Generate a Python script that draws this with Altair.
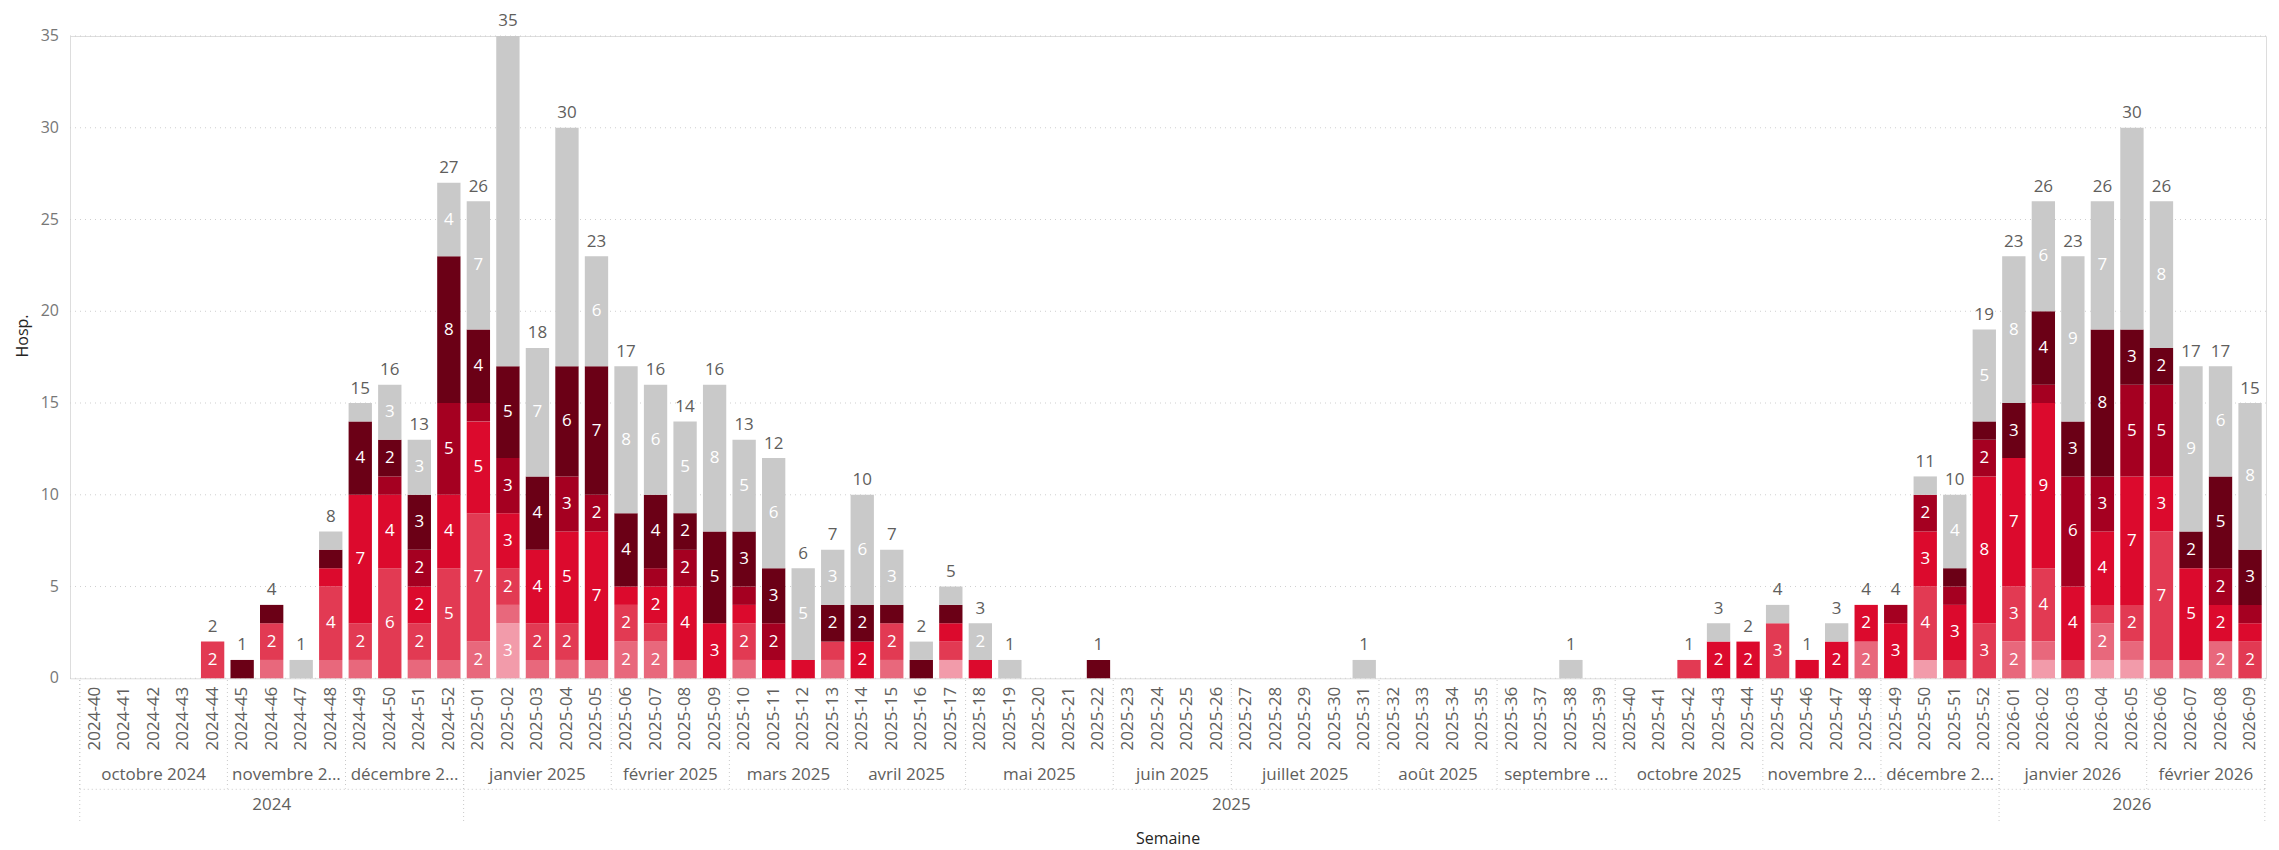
import altair as alt
import pandas as pd

# ---------------- data ----------------
weeks = (
    [f"2024-{w:02d}" for w in range(40, 53)]
    + [f"2025-{w:02d}" for w in range(1, 53)]
    + [f"2026-{w:02d}" for w in range(1, 10)]
)

series_names = ["Groupe 1", "Groupe 2", "Groupe 3", "Groupe 4", "Groupe 5", "Groupe 6", "Groupe 7"]
series_colors = ["#F29BAA", "#E8687C", "#E23A53", "#DC0A2D", "#A50021", "#6B0016", "#C9C9C9"]

# each list: 2024-40..52 (13) | 2025-01..52 (52, in rows of 13) | 2026-01..09 (9)
c1 = ([0, 0, 0, 0, 0, 0, 0, 0, 0, 0, 0, 0, 0]
      + [0, 3, 0, 0, 0, 0, 0, 0, 0, 0, 0, 0, 0,
         0, 0, 0, 1, 0, 0, 0, 0, 0, 0, 0, 0, 0,
         0, 0, 0, 0, 0, 0, 0, 0, 0, 0, 0, 0, 0,
         0, 0, 0, 0, 0, 0, 0, 0, 0, 0, 1, 0, 0]
      + [0, 1, 0, 1, 1, 0, 0, 0, 0])
c2 = ([0, 0, 0, 0, 0, 0, 1, 0, 1, 1, 0, 1, 1]
      + [2, 1, 1, 1, 1, 2, 2, 1, 0, 1, 0, 0, 1,
         0, 1, 0, 0, 0, 0, 0, 0, 0, 0, 0, 0, 0,
         0, 0, 0, 0, 0, 0, 0, 0, 0, 0, 0, 0, 0,
         0, 0, 0, 0, 0, 0, 0, 0, 2, 0, 0, 0, 0]
      + [2, 1, 0, 2, 1, 1, 1, 2, 0])
c3 = ([0, 0, 0, 0, 2, 0, 2, 0, 4, 2, 6, 2, 5]
      + [7, 2, 2, 2, 0, 2, 1, 0, 0, 2, 0, 0, 1,
         0, 2, 0, 1, 0, 0, 0, 0, 0, 0, 0, 0, 0,
         0, 0, 0, 0, 0, 0, 0, 0, 0, 0, 0, 0, 0,
         0, 0, 1, 0, 0, 3, 0, 0, 0, 0, 4, 1, 3]
      + [3, 4, 1, 1, 2, 7, 0, 0, 2])
c4 = ([0, 0, 0, 0, 0, 0, 0, 0, 1, 7, 4, 2, 4]
      + [5, 3, 4, 5, 7, 1, 2, 4, 3, 1, 1, 1, 0,
         2, 0, 0, 1, 1, 0, 0, 0, 0, 0, 0, 0, 0,
         0, 0, 0, 0, 0, 0, 0, 0, 0, 0, 0, 0, 0,
         0, 0, 0, 2, 2, 0, 1, 2, 2, 3, 3, 3, 8]
      + [7, 9, 4, 4, 7, 3, 5, 2, 1])
c5 = ([0, 0, 0, 0, 0, 0, 0, 0, 0, 0, 1, 2, 5]
      + [1, 3, 0, 3, 2, 0, 1, 2, 0, 1, 2, 0, 0,
         0, 0, 0, 0, 0, 0, 0, 0, 0, 0, 0, 0, 0,
         0, 0, 0, 0, 0, 0, 0, 0, 0, 0, 0, 0, 0,
         0, 0, 0, 0, 0, 0, 0, 0, 0, 1, 2, 1, 2]
      + [0, 1, 6, 3, 5, 5, 0, 2, 1])
c6 = ([0, 0, 0, 0, 0, 1, 1, 0, 1, 4, 2, 3, 8]
      + [4, 5, 4, 6, 7, 4, 4, 2, 5, 3, 3, 0, 2,
         2, 1, 1, 1, 0, 0, 0, 0, 1, 0, 0, 0, 0,
         0, 0, 0, 0, 0, 0, 0, 0, 0, 0, 0, 0, 0,
         0, 0, 0, 0, 0, 0, 0, 0, 0, 0, 0, 1, 1]
      + [3, 4, 3, 8, 3, 2, 2, 5, 3])
c7 = ([0, 0, 0, 0, 0, 0, 0, 1, 1, 1, 3, 3, 4]
      + [7, 18, 7, 13, 6, 8, 6, 5, 8, 5, 6, 5, 3,
         6, 3, 1, 1, 2, 1, 0, 0, 0, 0, 0, 0, 0,
         0, 0, 0, 0, 1, 0, 0, 0, 0, 0, 0, 1, 0,
         0, 0, 0, 1, 0, 1, 0, 1, 0, 0, 1, 4, 5]
      + [8, 6, 9, 7, 11, 8, 9, 6, 8])
series_values = [c1, c2, c3, c4, c5, c6, c7]

month_labels = ["octobre 2024", "novembre 2024", "décembre 2024",
                "janvier 2025", "février 2025", "mars 2025", "avril 2025", "mai 2025",
                "juin 2025", "juillet 2025", "août 2025", "septembre 2025", "octobre 2025",
                "novembre 2025", "décembre 2025", "janvier 2026", "février 2026"]
month_sizes = [5, 4, 4, 5, 4, 4, 4, 5, 4, 5, 4, 4, 5, 4, 4, 5, 4]
year_labels = ["2024", "2025", "2026"]
year_sizes = [13, 52, 9]
y_ticks = [0, 5, 10, 15, 20, 25, 30, 35]

# ---------------- tables ----------------
n = len(weeks)
rows = []
for i, wk in enumerate(weeks):
    for j, (name, vals) in enumerate(zip(series_names, series_values)):
        rows.append({"idx": i, "week": wk, "series": name, "order": j, "value": vals[i]})
long_df = pd.DataFrame(rows)
tot_df = pd.DataFrame({"idx": list(range(n)),
                       "total": [sum(s[i] for s in series_values) for i in range(n)]})
week_df = pd.DataFrame({"idx": list(range(n)), "week": weeks})
tick_df = pd.DataFrame({"v": y_ticks})


def groups(labels, sizes):
    out, start = [], 0
    for lab, k in zip(labels, sizes):
        out.append({"label": lab, "lo": start - 0.5, "hi": start + k - 0.5, "mid": start + (k - 1) / 2})
        start += k
    return pd.DataFrame(out)


month_df = groups(month_labels, month_sizes)
year_df = groups(year_labels, year_sizes)
month_b = pd.DataFrame({"b": list(month_df["lo"]) + [month_df["hi"].iloc[-1]]})
year_b = pd.DataFrame({"b": list(year_df["lo"]) + [year_df["hi"].iloc[-1]]})
hline_df = pd.DataFrame({"lo": [-0.5], "hi": [n - 0.5]})

# ---------------- styling ----------------
FONT = "Open Sans"
TXT = "#605E5C"
SEP = "#C8C8C8"
HALF = 0.395
W, H = 2196, 642.3

xs = alt.Scale(domain=[-0.83, 73.54], nice=False, zero=False)
ys = alt.Scale(domain=[0, 35], nice=False, zero=True)
stack_sort = [alt.SortField("order", order="ascending")]


def X(field):
    return alt.X(field, scale=xs, axis=None)


def Y(field):
    return alt.Y(field, scale=ys, axis=None)


grid = (
    alt.Chart(tick_df)
    .mark_rule(color="#CFCFCF", strokeDash=[1, 4], strokeWidth=1)
    .encode(y=Y("v:Q"), x=alt.value(0), x2=alt.value(W))
)
ylabels = (
    alt.Chart(tick_df)
    .mark_text(font=FONT, fontSize=16, color="#777777", align="right", baseline="middle")
    .encode(y=Y("v:Q"), x=alt.value(-11), text="v:Q")
)

bars = (
    alt.Chart(long_df)
    .transform_stack(stack="value", groupby=["idx"], as_=["y0", "y1"], sort=stack_sort)
    .transform_filter("datum.value > 0")
    .transform_calculate(xl=f"datum.idx - {HALF}", xr=f"datum.idx + {HALF}")
    .mark_bar()
    .encode(
        x=X("xl:Q"),
        x2="xr:Q",
        y=Y("y1:Q"),
        y2="y0:Q",
        color=alt.Color("series:N", scale=alt.Scale(domain=series_names, range=series_colors),
                        legend=None),
    )
)

seg_labels = (
    alt.Chart(long_df)
    .transform_stack(stack="value", groupby=["idx"], as_=["y0", "y1"], sort=stack_sort)
    .transform_filter("datum.value >= 2 && datum.value <= 9")
    .transform_calculate(mid="(datum.y0 + datum.y1) / 2")
    .mark_text(font=FONT, fontSize=17, color="white", align="center", baseline="middle")
    .encode(x=X("idx:Q"), y=Y("mid:Q"), text="value:Q")
)

totals = (
    alt.Chart(tot_df)
    .transform_filter("datum.total > 0")
    .mark_text(font=FONT, fontSize=17, color=TXT, align="center", baseline="alphabetic", dy=-9.5)
    .encode(x=X("idx:Q"), y=Y("total:Q"), text="total:Q")
)

week_text = (
    alt.Chart(week_df)
    .mark_text(font=FONT, fontSize=17, color=TXT, angle=270, align="right", baseline="middle")
    .encode(x=X("idx:Q"), y=alt.value(H + 8.4), text="week:N")
)

month_rules = (
    alt.Chart(month_b)
    .mark_rule(color=SEP, strokeDash=[1, 3], strokeWidth=1)
    .encode(x=X("b:Q"), y=alt.value(H + 1.7), y2=alt.value(H + 110.4))
)
year_rules = (
    alt.Chart(year_b)
    .mark_rule(color=SEP, strokeDash=[1, 3], strokeWidth=1)
    .encode(x=X("b:Q"), y=alt.value(H + 1.7), y2=alt.value(H + 143.4))
)
hline = (
    alt.Chart(hline_df)
    .mark_rule(color=SEP, strokeDash=[1, 3], strokeWidth=1)
    .encode(x=X("lo:Q"), x2="hi:Q", y=alt.value(H + 111))
)

month_text = (
    alt.Chart(month_df)
    .mark_text(font=FONT, fontSize=17, color=TXT, align="center", baseline="middle",
               limit=112, ellipsis="...")
    .encode(x=X("mid:Q"), y=alt.value(H + 96.7), text="label:N")
)
year_text = (
    alt.Chart(year_df)
    .mark_text(font=FONT, fontSize=17, color=TXT, align="center", baseline="middle")
    .encode(x=X("mid:Q"), y=alt.value(H + 126.7), text="label:N")
)

x_title = (
    alt.Chart(pd.DataFrame({"t": ["Semaine"]}))
    .mark_text(font=FONT, fontSize=16, color="#252423", align="center", baseline="middle")
    .encode(x=alt.value(W / 2), y=alt.value(H + 160.7), text="t:N")
)
y_title = (
    alt.Chart(pd.DataFrame({"t": ["Hosp."]}))
    .mark_text(font=FONT, fontSize=16, color="#252423", angle=270, align="center",
               baseline="middle")
    .encode(x=alt.value(-47), y=alt.value(300), text="t:N")
)

chart = (
    alt.layer(grid, ylabels, bars, seg_labels, totals, week_text, month_rules, year_rules,
              hline, month_text, year_text, x_title, y_title)
    .properties(width=W, height=H,
                padding={"left": 62, "top": 28, "right": 3, "bottom": 170},
                autosize=alt.AutoSizeParams(type="none"))
    .configure_view(stroke=None)
    .configure(background="white")
)

chart.save("out.html", embed_options={"renderer": "svg", "actions": False})
